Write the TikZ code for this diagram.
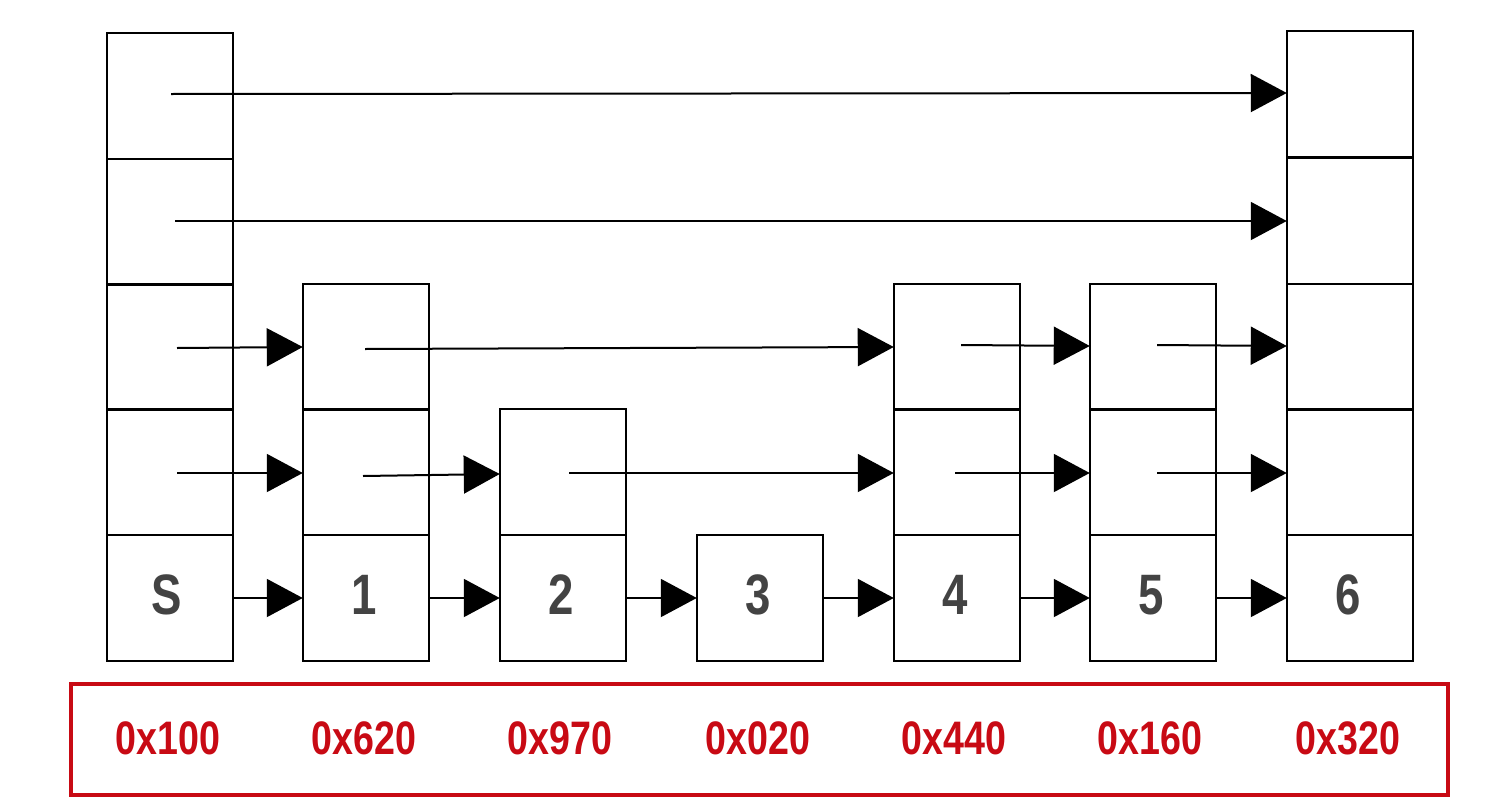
\documentclass[tikz,border=0pt]{standalone}
\usepackage{fontspec}
\setmainfont{Liberation Sans}
\newfontfamily\lblfont[FakeStretch=0.8]{Liberation Sans Bold}
\usetikzlibrary{arrows.meta}
\definecolor{lblgray}{HTML}{434343}
\definecolor{addrred}{HTML}{C80A14}
\tikzset{
  cell/.style={draw=black, line width=2.5pt, minimum width=126pt, minimum height=126pt, inner sep=0pt},
  lbl/.style={font=\lblfont\fontsize{57}{57}\selectfont, text=lblgray},
  link/.style={line width=2pt, -{Triangle[length=36pt,width=38pt]}, shorten >=-1pt},
  addr/.style={font=\lblfont\fontsize{47}{47}\selectfont, text=addrred},
}
\begin{document}
\begin{tikzpicture}[x=1pt,y=-1pt]
\useasboundingbox (0,0) rectangle (1502,806);
% column S
\node[cell] (S0) at (170,598) {};
\node[cell] (S1) at (170,472) {};
\node[cell] (S2) at (170,347) {};
\node[cell] (S3) at (170,222) {};
\node[cell] (S4) at (170,96) {};
% column 1
\node[cell] (A0) at (366,598) {};
\node[cell] (A1) at (366,472) {};
\node[cell] (A2) at (366,347) {};
% column 2
\node[cell] (B0) at (563,598) {};
\node[cell] (B1) at (563,472) {};
% column 3
\node[cell] (C0) at (760,598) {};
% column 4
\node[cell] (D0) at (957,598) {};
\node[cell] (D1) at (957,472) {};
\node[cell] (D2) at (957,347) {};
% column 5
\node[cell] (E0) at (1153,598) {};
\node[cell] (E1) at (1153,472) {};
\node[cell] (E2) at (1153,347) {};
% column 6
\node[cell] (F0) at (1350,598) {};
\node[cell] (F1) at (1350,472) {};
\node[cell] (F2) at (1350,347) {};
\node[cell] (F3) at (1350,221) {};
\node[cell] (F4) at (1350,94) {};
% labels
\node[lbl] (tS) at (167,595) {S};
\node[lbl] (t1) at (364,595) {1};
\node[lbl] (t2) at (561,595) {2};
\node[lbl] (t3) at (758,595) {3};
\node[lbl] (t4) at (955,595) {4};
\node[lbl] (t5) at (1151,595) {5};
\node[lbl] (t6) at (1348,595) {6};
% start points of pointers
\coordinate (s1) at (177,473);
\coordinate (s2) at (177,348);
\coordinate (s3) at (175,221);
\coordinate (s4) at (171,94);
\coordinate (a1) at (363,476);
\coordinate (a2) at (365,349);
\coordinate (b1) at (569,473);
\coordinate (d1) at (955,473);
\coordinate (d2) at (961,345);
\coordinate (e1) at (1157,473);
\coordinate (e2) at (1157,345);
% level 0
\draw[link] (S0.east) -- (A0.west);
\draw[link] (A0.east) -- (B0.west);
\draw[link] (B0.east) -- (C0.west);
\draw[link] (C0.east) -- (D0.west);
\draw[link] (D0.east) -- (E0.west);
\draw[link] (E0.east) -- (F0.west);
% level 1
\draw[link] (s1) -- (A1.west |- 0,473);
\draw[link] (a1) -- (B1.west |- 0,474);
\draw[link] (b1) -- (D1.west |- 0,473);
\draw[link] (d1) -- (E1.west |- 0,473);
\draw[link] (e1) -- (F1.west |- 0,473);
% level 2
\draw[link] (s2) -- (A2.west |- 0,347);
\draw[link] (a2) -- (D2.west |- 0,347);
\draw[link] (d2) -- (E2.west |- 0,346);
\draw[link] (e2) -- (F2.west |- 0,346);
% level 3 and 4
\draw[link] (s3) -- (F3.west |- 0,221);
\draw[link] (s4) -- (F4.west |- 0,93);
% address box
\node[draw=addrred, line width=4.5pt, minimum width=1377pt, minimum height=111pt, inner sep=0pt] (box) at (759.5,739.5) {};
\node[addr] (m0) at (168,738) {0x100};
\node[addr] (m1) at (364,738) {0x620};
\node[addr] (m2) at (560,738) {0x970};
\node[addr] (m3) at (758,738) {0x020};
\node[addr] (m4) at (954,738) {0x440};
\node[addr] (m5) at (1150,738) {0x160};
\node[addr] (m6) at (1348,738) {0x320};
\end{tikzpicture}
\end{document}
